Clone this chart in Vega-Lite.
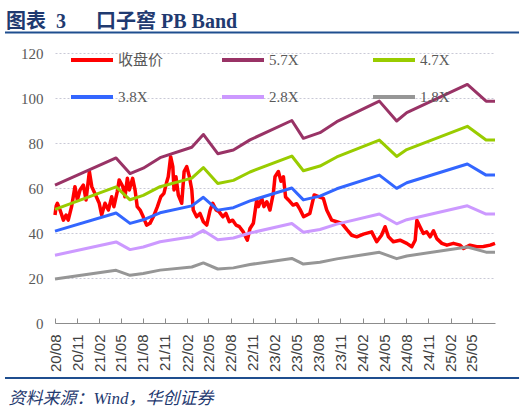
{
  "$schema": "https://vega.github.io/schema/vega-lite/v6.json",
  "width": 440,
  "height": 270,
  "autosize": {"type": "none"},
  "padding": {"left": 55, "top": 53, "right": 29, "bottom": 89},
  "background": "#ffffff",
  "title": {
    "text": "图表\u20023\u3000\u2002口子窖 PB Band",
    "anchor": "start",
    "frame": "group",
    "dx": -49,
    "dy": 19,
    "offset": 3,
    "baseline": "alphabetic",
    "font": "Liberation Serif, Noto Sans CJK SC",
    "fontSize": 20,
    "fontWeight": "bold",
    "color": "#1F3A70"
  },
  "config": {
    "view": {"stroke": null},
    "axis": {"labelOverlap": false, "labelSeparation": 0},
    "legend": {
      "title": null,
      "orient": "none",
      "legendX": 14,
      "legendY": -16,
      "direction": "horizontal",
      "columns": 3,
      "gridAlign": "all",
      "columnPadding": 50,
      "rowPadding": 6,
      "symbolType": "stroke",
      "symbolSize": 1764,
      "symbolStrokeWidth": 4,
      "labelFont": "Liberation Serif, Noto Sans CJK SC",
      "labelFontSize": 15,
      "labelColor": "#595959",
      "labelOffset": 3,
      "labelLimit": 200
    }
  },
  "datasets": {
    "price": [
      {"date": "2020-08-01", "close": 48},
      {"date": "2020-08-06", "close": 52},
      {"date": "2020-08-11", "close": 53.2},
      {"date": "2020-08-22", "close": 50.2},
      {"date": "2020-09-05", "close": 45.7},
      {"date": "2020-09-16", "close": 48},
      {"date": "2020-09-25", "close": 45.7},
      {"date": "2020-10-09", "close": 51.7},
      {"date": "2020-10-23", "close": 60.6},
      {"date": "2020-11-02", "close": 54.7},
      {"date": "2020-11-13", "close": 59.1},
      {"date": "2020-11-27", "close": 61.3},
      {"date": "2020-12-08", "close": 54.7},
      {"date": "2020-12-22", "close": 67.3},
      {"date": "2021-01-01", "close": 60.6},
      {"date": "2021-01-14", "close": 57.6},
      {"date": "2021-02-01", "close": 53.2},
      {"date": "2021-02-11", "close": 48},
      {"date": "2021-02-25", "close": 53.2},
      {"date": "2021-03-11", "close": 50.2},
      {"date": "2021-03-25", "close": 56.1},
      {"date": "2021-04-03", "close": 51.7},
      {"date": "2021-04-17", "close": 58.4},
      {"date": "2021-04-25", "close": 63.6},
      {"date": "2021-05-10", "close": 60.6},
      {"date": "2021-05-19", "close": 56.1},
      {"date": "2021-05-29", "close": 64.3},
      {"date": "2021-06-06", "close": 59.1},
      {"date": "2021-06-20", "close": 64.3},
      {"date": "2021-06-30", "close": 59.1},
      {"date": "2021-07-09", "close": 51.7},
      {"date": "2021-07-21", "close": 50.2},
      {"date": "2021-08-03", "close": 47.2},
      {"date": "2021-08-17", "close": 43.5},
      {"date": "2021-08-31", "close": 44.3},
      {"date": "2021-09-14", "close": 47.2},
      {"date": "2021-10-01", "close": 51.7},
      {"date": "2021-10-15", "close": 56.1},
      {"date": "2021-10-28", "close": 57.6},
      {"date": "2021-11-09", "close": 62.8},
      {"date": "2021-11-15", "close": 65},
      {"date": "2021-11-25", "close": 73.9},
      {"date": "2021-12-04", "close": 69.5},
      {"date": "2021-12-09", "close": 59.1},
      {"date": "2021-12-17", "close": 65},
      {"date": "2021-12-27", "close": 56.9},
      {"date": "2022-01-10", "close": 53.2},
      {"date": "2022-01-20", "close": 67.3},
      {"date": "2022-01-31", "close": 69.5},
      {"date": "2022-02-11", "close": 65},
      {"date": "2022-02-21", "close": 59.1},
      {"date": "2022-02-27", "close": 50.2},
      {"date": "2022-03-13", "close": 47.2},
      {"date": "2022-03-27", "close": 48.7},
      {"date": "2022-04-10", "close": 45},
      {"date": "2022-04-24", "close": 43.5},
      {"date": "2022-05-08", "close": 50.2},
      {"date": "2022-05-19", "close": 53.2},
      {"date": "2022-06-02", "close": 50.2},
      {"date": "2022-06-15", "close": 49.4},
      {"date": "2022-06-30", "close": 47.2},
      {"date": "2022-07-13", "close": 48.7},
      {"date": "2022-07-27", "close": 45},
      {"date": "2022-08-10", "close": 45.7},
      {"date": "2022-08-24", "close": 43.5},
      {"date": "2022-09-07", "close": 42.8},
      {"date": "2022-09-23", "close": 40.5},
      {"date": "2022-10-10", "close": 36.8},
      {"date": "2022-10-21", "close": 42},
      {"date": "2022-11-04", "close": 44.3},
      {"date": "2022-11-18", "close": 54.7},
      {"date": "2022-11-25", "close": 51.7},
      {"date": "2022-12-09", "close": 55.4},
      {"date": "2022-12-18", "close": 51.7},
      {"date": "2022-12-30", "close": 53.9},
      {"date": "2023-01-12", "close": 50.2},
      {"date": "2023-01-26", "close": 57.6},
      {"date": "2023-02-02", "close": 65},
      {"date": "2023-02-16", "close": 67.3},
      {"date": "2023-02-27", "close": 63},
      {"date": "2023-03-09", "close": 65},
      {"date": "2023-03-18", "close": 56},
      {"date": "2023-03-30", "close": 54.7},
      {"date": "2023-04-18", "close": 52.4},
      {"date": "2023-05-03", "close": 53},
      {"date": "2023-05-17", "close": 50.5},
      {"date": "2023-06-01", "close": 47.2},
      {"date": "2023-06-27", "close": 48.7},
      {"date": "2023-07-15", "close": 56.9},
      {"date": "2023-08-10", "close": 55.8},
      {"date": "2023-08-22", "close": 55.4},
      {"date": "2023-09-05", "close": 50.2},
      {"date": "2023-09-26", "close": 45.7},
      {"date": "2023-10-17", "close": 45},
      {"date": "2023-11-07", "close": 44.3},
      {"date": "2023-11-28", "close": 41.5},
      {"date": "2023-12-18", "close": 39},
      {"date": "2024-01-08", "close": 38.3},
      {"date": "2024-02-05", "close": 39.5},
      {"date": "2024-03-10", "close": 40.5},
      {"date": "2024-03-31", "close": 36.1},
      {"date": "2024-04-20", "close": 39},
      {"date": "2024-05-05", "close": 42.8},
      {"date": "2024-05-19", "close": 38.3},
      {"date": "2024-06-08", "close": 36.1},
      {"date": "2024-07-06", "close": 36.8},
      {"date": "2024-08-03", "close": 35.4},
      {"date": "2024-08-24", "close": 33.9},
      {"date": "2024-09-07", "close": 36.8},
      {"date": "2024-09-14", "close": 45.7},
      {"date": "2024-09-27", "close": 42.8},
      {"date": "2024-10-11", "close": 39.8},
      {"date": "2024-10-25", "close": 40.5},
      {"date": "2024-11-08", "close": 38.3},
      {"date": "2024-11-22", "close": 41},
      {"date": "2024-12-06", "close": 37.5},
      {"date": "2024-12-27", "close": 35.4},
      {"date": "2025-01-17", "close": 34.6},
      {"date": "2025-02-13", "close": 35.4},
      {"date": "2025-03-13", "close": 34.6},
      {"date": "2025-03-27", "close": 33.1},
      {"date": "2025-04-23", "close": 34.6},
      {"date": "2025-05-21", "close": 33.9},
      {"date": "2025-06-18", "close": 34},
      {"date": "2025-07-16", "close": 34.6},
      {"date": "2025-08-05", "close": 35.4}
    ],
    "band": [
      {"date": "2020-08-01", "series": "5.7X", "value": 61.28},
      {"date": "2021-04-12", "series": "5.7X", "value": 73.36},
      {"date": "2021-06-09", "series": "5.7X", "value": 66.41},
      {"date": "2021-08-03", "series": "5.7X", "value": 68.8},
      {"date": "2021-10-12", "series": "5.7X", "value": 73.47},
      {"date": "2022-02-21", "series": "5.7X", "value": 78.09},
      {"date": "2022-04-10", "series": "5.7X", "value": 83.79},
      {"date": "2022-06-09", "series": "5.7X", "value": 75.24},
      {"date": "2022-08-13", "series": "5.7X", "value": 76.89},
      {"date": "2022-10-21", "series": "5.7X", "value": 81.4},
      {"date": "2023-04-13", "series": "5.7X", "value": 90.0},
      {"date": "2023-05-31", "series": "5.7X", "value": 82.08},
      {"date": "2023-08-08", "series": "5.7X", "value": 84.59},
      {"date": "2023-10-17", "series": "5.7X", "value": 89.49},
      {"date": "2024-04-11", "series": "5.7X", "value": 98.61},
      {"date": "2024-06-22", "series": "5.7X", "value": 89.78},
      {"date": "2024-08-03", "series": "5.7X", "value": 93.48},
      {"date": "2025-04-12", "series": "5.7X", "value": 106.02},
      {"date": "2025-06-29", "series": "5.7X", "value": 98.61},
      {"date": "2025-08-05", "series": "5.7X", "value": 98.61},
      {"date": "2020-08-01", "series": "4.7X", "value": 50.53},
      {"date": "2021-04-12", "series": "4.7X", "value": 60.49},
      {"date": "2021-06-09", "series": "4.7X", "value": 54.76},
      {"date": "2021-08-03", "series": "4.7X", "value": 56.73},
      {"date": "2021-10-12", "series": "4.7X", "value": 60.58},
      {"date": "2022-02-21", "series": "4.7X", "value": 64.39},
      {"date": "2022-04-10", "series": "4.7X", "value": 69.09},
      {"date": "2022-06-09", "series": "4.7X", "value": 62.04},
      {"date": "2022-08-13", "series": "4.7X", "value": 63.4},
      {"date": "2022-10-21", "series": "4.7X", "value": 67.12},
      {"date": "2023-04-13", "series": "4.7X", "value": 74.21},
      {"date": "2023-05-31", "series": "4.7X", "value": 67.68},
      {"date": "2023-08-08", "series": "4.7X", "value": 69.75},
      {"date": "2023-10-17", "series": "4.7X", "value": 73.79},
      {"date": "2024-04-11", "series": "4.7X", "value": 81.31},
      {"date": "2024-06-22", "series": "4.7X", "value": 74.03},
      {"date": "2024-08-03", "series": "4.7X", "value": 77.08},
      {"date": "2025-04-12", "series": "4.7X", "value": 87.42},
      {"date": "2025-06-29", "series": "4.7X", "value": 81.31},
      {"date": "2025-08-05", "series": "4.7X", "value": 81.31},
      {"date": "2020-08-01", "series": "3.8X", "value": 40.85},
      {"date": "2021-04-12", "series": "3.8X", "value": 48.91},
      {"date": "2021-06-09", "series": "3.8X", "value": 44.27},
      {"date": "2021-08-03", "series": "3.8X", "value": 45.87},
      {"date": "2021-10-12", "series": "3.8X", "value": 48.98},
      {"date": "2022-02-21", "series": "3.8X", "value": 52.06},
      {"date": "2022-04-10", "series": "3.8X", "value": 55.86},
      {"date": "2022-06-09", "series": "3.8X", "value": 50.16},
      {"date": "2022-08-13", "series": "3.8X", "value": 51.26},
      {"date": "2022-10-21", "series": "3.8X", "value": 54.26},
      {"date": "2023-04-13", "series": "3.8X", "value": 60.0},
      {"date": "2023-05-31", "series": "3.8X", "value": 54.72},
      {"date": "2023-08-08", "series": "3.8X", "value": 56.39},
      {"date": "2023-10-17", "series": "3.8X", "value": 59.66},
      {"date": "2024-04-11", "series": "3.8X", "value": 65.74},
      {"date": "2024-06-22", "series": "3.8X", "value": 59.85},
      {"date": "2024-08-03", "series": "3.8X", "value": 62.32},
      {"date": "2025-04-12", "series": "3.8X", "value": 70.68},
      {"date": "2025-06-29", "series": "3.8X", "value": 65.74},
      {"date": "2025-08-05", "series": "3.8X", "value": 65.74},
      {"date": "2020-08-01", "series": "2.8X", "value": 30.1},
      {"date": "2021-04-12", "series": "2.8X", "value": 36.04},
      {"date": "2021-06-09", "series": "2.8X", "value": 32.62},
      {"date": "2021-08-03", "series": "2.8X", "value": 33.8},
      {"date": "2021-10-12", "series": "2.8X", "value": 36.09},
      {"date": "2022-02-21", "series": "2.8X", "value": 38.36},
      {"date": "2022-04-10", "series": "2.8X", "value": 41.16},
      {"date": "2022-06-09", "series": "2.8X", "value": 36.96},
      {"date": "2022-08-13", "series": "2.8X", "value": 37.77},
      {"date": "2022-10-21", "series": "2.8X", "value": 39.98},
      {"date": "2023-04-13", "series": "2.8X", "value": 44.21},
      {"date": "2023-05-31", "series": "2.8X", "value": 40.32},
      {"date": "2023-08-08", "series": "2.8X", "value": 41.55},
      {"date": "2023-10-17", "series": "2.8X", "value": 43.96},
      {"date": "2024-04-11", "series": "2.8X", "value": 48.44},
      {"date": "2024-06-22", "series": "2.8X", "value": 44.1},
      {"date": "2024-08-03", "series": "2.8X", "value": 45.92},
      {"date": "2025-04-12", "series": "2.8X", "value": 52.08},
      {"date": "2025-06-29", "series": "2.8X", "value": 48.44},
      {"date": "2025-08-05", "series": "2.8X", "value": 48.44},
      {"date": "2020-08-01", "series": "1.8X", "value": 19.6},
      {"date": "2021-04-12", "series": "1.8X", "value": 23.4},
      {"date": "2021-06-09", "series": "1.8X", "value": 21.2},
      {"date": "2021-08-03", "series": "1.8X", "value": 22.0},
      {"date": "2021-10-12", "series": "1.8X", "value": 23.5},
      {"date": "2022-02-21", "series": "1.8X", "value": 24.9},
      {"date": "2022-04-10", "series": "1.8X", "value": 26.7},
      {"date": "2022-06-09", "series": "1.8X", "value": 24.0},
      {"date": "2022-08-13", "series": "1.8X", "value": 24.5},
      {"date": "2022-10-21", "series": "1.8X", "value": 26.0},
      {"date": "2023-04-13", "series": "1.8X", "value": 28.7},
      {"date": "2023-05-31", "series": "1.8X", "value": 26.2},
      {"date": "2023-08-08", "series": "1.8X", "value": 27.0},
      {"date": "2023-10-17", "series": "1.8X", "value": 28.5},
      {"date": "2024-04-11", "series": "1.8X", "value": 31.4},
      {"date": "2024-06-22", "series": "1.8X", "value": 28.6},
      {"date": "2024-08-03", "series": "1.8X", "value": 29.8},
      {"date": "2025-04-12", "series": "1.8X", "value": 33.8},
      {"date": "2025-06-29", "series": "1.8X", "value": 31.5},
      {"date": "2025-08-05", "series": "1.8X", "value": 31.5}
    ]
  },
  "layer": [
    {
      "data": {"name": "price"},
      "mark": {"type": "line", "strokeWidth": 3.5, "strokeJoin": "round"},
      "encoding": {
        "x": {
          "field": "date",
          "type": "temporal",
          "scale": {
            "domain": ["2020-08-01", "2025-08-05"]
          },
          "axis": {
            "values": ["2020-08-01", "2020-11-01", "2021-02-01", "2021-05-01", "2021-08-01", "2021-11-01", "2022-02-01", "2022-05-01", "2022-08-01", "2022-11-01", "2023-02-01", "2023-05-01", "2023-08-01", "2023-11-01", "2024-02-01", "2024-05-01", "2024-08-01", "2024-11-01", "2025-02-01", "2025-05-01"],
            "tickCount": 30,
            "labelExpr": "utcFormat(datum.value, '%y/%m')",
            "labelAngle": 270,
            "labelFont": "Liberation Sans",
            "labelFontSize": 15,
            "labelColor": "#404040",
            "labelPadding": 16,
            "labelFlush": false,
            "labelOverlap": false,
            "labelBound": false,
            "tickSize": -5,
            "tickColor": "#8c8c8c",
            "domainColor": "#8c8c8c",
            "grid": false,
            "title": "资料来源：Wind，华创证券",
            "titleFont": "Liberation Serif, Noto Sans CJK SC",
            "titleFontStyle": "italic",
            "titleFontWeight": "normal",
            "titleFontSize": 17,
            "titleColor": "#1F3A70",
            "titleAnchor": "start",
            "titleAlign": "left",
            "titleBaseline": "alphabetic",
            "titleX": -47,
            "titleY": 80
          }
        },
        "y": {
          "field": "close",
          "type": "quantitative",
          "scale": {"domain": [0, 120], "nice": false},
          "axis": {
            "values": [0, 20, 40, 60, 80, 100, 120],
            "domain": false,
            "ticks": false,
            "tickSize": 0,
            "labelPadding": 12,
            "labelFont": "Liberation Serif",
            "labelFontSize": 15,
            "labelColor": "#595959",
            "grid": true,
            "gridColor": "#C9C9D6",
            "gridDash": [2, 2],
            "gridWidth": 1,
            "title": null
          }
        },
        "color": {
          "datum": "收盘价",
          "scale": {
            "domain": ["收盘价", "5.7X", "4.7X", "3.8X", "2.8X", "1.8X"],
            "range": ["#FF0000", "#993366", "#99CC00", "#3366FF", "#CC99FF", "#969696"]
          },
          "legend": {"title": null}
        }
      }
    },
    {
      "data": {"name": "band"},
      "mark": {"type": "line", "strokeWidth": 3, "strokeJoin": "round"},
      "encoding": {
        "x": {"field": "date", "type": "temporal"},
        "y": {"field": "value", "type": "quantitative"},
        "color": {"field": "series", "type": "nominal", "legend": {"title": null}}
      }
    },
    {
      "data": {"values": [{}]},
      "mark": {"type": "rule", "strokeWidth": 2, "color": "#1F4E8F"},
      "encoding": {
        "x": {"datum": {"year": 2020, "month": 1, "date": 6, "utc": true}, "type": "temporal"},
        "x2": {"datum": {"year": 2025, "month": 11, "date": 13, "utc": true}},
        "y": {"datum": 129.1, "type": "quantitative"}
      }
    },
    {
      "data": {"values": [{}]},
      "mark": {"type": "rule", "strokeWidth": 2, "color": "#1F4E8F"},
      "encoding": {
        "x": {"datum": {"year": 2020, "month": 1, "date": 6, "utc": true}, "type": "temporal"},
        "x2": {"datum": {"year": 2025, "month": 11, "date": 13, "utc": true}},
        "y": {"datum": -24.4, "type": "quantitative"}
      }
    }
  ]
}
